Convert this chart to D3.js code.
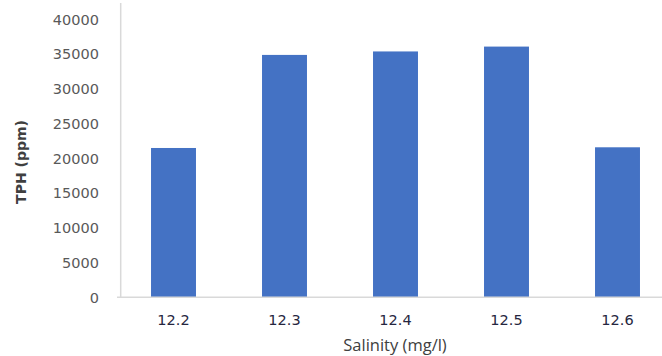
<!DOCTYPE html>
<html>
<head>
<meta charset="utf-8">
<script src="https://cdn.jsdelivr.net/npm/d3@7"></script>
<style>
  html, body { margin: 0; padding: 0; background: #ffffff; }
  svg { display: block; }
</style>
</head>
<body>
<svg id="chart" width="662" height="356"></svg>
<script>
// TPH concentration by salinity level
const categories = ["12.2", "12.3", "12.4", "12.5", "12.6"];
const tphValues = [21500, 34900, 35400, 36100, 21600];
const yTicks = [0, 5000, 10000, 15000, 20000, 25000, 30000, 35000, 40000];
const xTitle = "Salinity (mg/l)";
const yTitle = "TPH (ppm)";

const svg = d3.select("#chart");
const font = "'DejaVu Sans', sans-serif";

const x = d3.scaleBand()
  .domain(categories)
  .range([118, 673])
  .paddingInner(0.595)
  .paddingOuter(0.2975);

const y = d3.scaleLinear()
  .domain([0, 40000])
  .range([297.3, 19.5]);

// bars
svg.append("g")
  .selectAll("rect")
  .data(categories)
  .join("rect")
  .attr("x", d => x(d))
  .attr("y", (d, i) => y(tphValues[i]))
  .attr("width", x.bandwidth())
  .attr("height", (d, i) => y(0) - y(tphValues[i]))
  .attr("fill", "#4472C4");

// y axis line
svg.append("line")
  .attr("x1", 120.7).attr("x2", 120.7)
  .attr("y1", 3).attr("y2", y(0))
  .attr("stroke", "#d9d9d9").attr("stroke-width", 1.5);

// baseline
svg.append("line")
  .attr("x1", 117).attr("x2", 662)
  .attr("y1", y(0)).attr("y2", y(0))
  .attr("stroke", "#d9d9d9").attr("stroke-width", 1.5);

// y tick labels
svg.append("g")
  .selectAll("text")
  .data(yTicks)
  .join("text")
  .attr("x", 99)
  .attr("y", d => y(d))
  .attr("dy", "0.36em")
  .attr("text-anchor", "end")
  .attr("font-family", font)
  .attr("font-size", 14.5)
  .attr("fill", "#595959")
  .text(d => d);

// x tick labels
svg.append("g")
  .selectAll("text")
  .data(categories)
  .join("text")
  .attr("x", d => x(d) + x.bandwidth() / 2)
  .attr("y", 320)
  .attr("dy", "0.36em")
  .attr("text-anchor", "middle")
  .attr("font-family", font)
  .attr("font-size", 14.5)
  .attr("fill", "#262640")
  .text(d => d);

// axis titles
svg.append("text")
  .attr("x", 395)
  .attr("y", 351)
  .attr("text-anchor", "middle")
  .attr("font-family", "'Open Sans', sans-serif")
  .attr("font-size", 16.5)
  .attr("fill", "#404040")
  .text(xTitle);

svg.append("text")
  .attr("transform", "translate(26,162) rotate(-90)")
  .attr("text-anchor", "middle")
  .attr("font-family", font)
  .attr("font-size", 14)
  .attr("font-weight", "bold")
  .attr("fill", "#404040")
  .text(yTitle);
</script>
</body>
</html>
